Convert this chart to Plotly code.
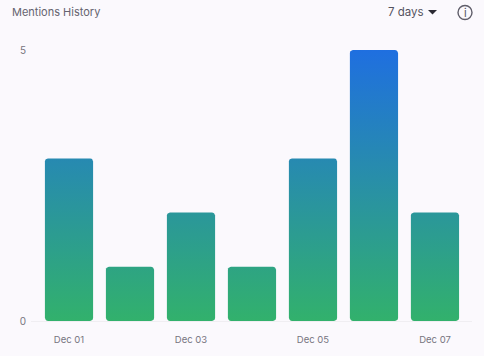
import numpy as np
import plotly.graph_objects as go

dates = ["Dec 01", "Dec 02", "Dec 03", "Dec 04", "Dec 05", "Dec 06", "Dec 07"]
mentions = [3, 1, 2, 1, 3, 5, 2]
tick_labels = ["Dec 01", "Dec 03", "Dec 05", "Dec 07"]
y_ticks = [0, 5]

W, H = 484, 356
PLOT_L, PLOT_R, PLOT_T, PLOT_B = 31, 472, 50, 321
BAR_W = 0.79
FONT = "Inter, sans-serif"
BG = "#fbf9fd"
TEXT = "#77757f"

x_range = [-0.623, 6.607]
y_range = [0, 5]
rx = 3 * (x_range[1] - x_range[0]) / (PLOT_R - PLOT_L)
ry = 3 * (y_range[1] - y_range[0]) / (PLOT_B - PLOT_T)


def rounded_bar(i, v):
    """Outline of a rounded bar of height v centred on category i."""
    a = np.linspace(0, np.pi / 2, 7)
    l, r = i - BAR_W / 2, i + BAR_W / 2
    xs = np.concatenate([l + rx - rx * np.cos(a), r - rx + rx * np.sin(a),
                         r - rx + rx * np.cos(a), l + rx - rx * np.sin(a)])
    ys = np.concatenate([ry - ry * np.sin(a), ry - ry * np.cos(a),
                         v - ry + ry * np.sin(a), v - ry + ry * np.cos(a)])
    return np.append(xs, xs[0]), np.append(ys, ys[0])


fig = go.Figure()
for i, (d, v) in enumerate(zip(dates, mentions)):
    xs, ys = rounded_bar(i, v)
    fig.add_trace(go.Scatter(
        x=xs, y=ys, mode="lines", fill="toself", line=dict(width=0),
        fillgradient=dict(type="vertical", start=5, stop=0,
                          colorscale=[[0, "#1f6fe0"], [1, "#32b16c"]]),
        name=d, hoverinfo="skip", showlegend=False,
    ))

px = lambda x: x / W
py = lambda y: 1 - y / H

fig.update_layout(
    width=W, height=H, margin=dict(l=0, r=0, t=0, b=0, autoexpand=False),
    paper_bgcolor=BG, plot_bgcolor=BG, showlegend=False,
    font=dict(family=FONT, size=10, color=TEXT),
    xaxis=dict(domain=[px(PLOT_L), px(PLOT_R)], range=x_range,
               tickmode="array", tickvals=[dates.index(t) for t in tick_labels],
               ticktext=tick_labels, showgrid=False, zeroline=False,
               ticks="outside", ticklen=10, tickcolor="rgba(0,0,0,0)",
               showline=True, linecolor="#f0eef2", linewidth=1,
               tickfont=dict(size=9.5, color=TEXT)),
    yaxis=dict(domain=[py(PLOT_B), py(PLOT_T)], range=y_range,
               tickmode="array", tickvals=y_ticks, showgrid=True,
               gridcolor="#f0eef2", gridwidth=1, zeroline=False,
               ticks="outside", ticklen=2, tickcolor="rgba(0,0,0,0)",
               tickfont=dict(size=10, color=TEXT)),
    annotations=[
        dict(text="Mentions History", xref="paper", yref="paper", x=px(10), y=py(11.5),
             xanchor="left", yanchor="middle", showarrow=False,
             font=dict(size=11, color="#65636f", family=FONT)),
        dict(text="7 days", xref="paper", yref="paper", x=px(406), y=py(11.5),
             xanchor="center", yanchor="middle", showarrow=False,
             font=dict(size=11.5, color="#55535f", family=FONT)),
        dict(text="i", xref="paper", yref="paper", x=px(465), y=py(12.5),
             xanchor="center", yanchor="middle", showarrow=False,
             font=dict(size=11, color="#55535f", family=FONT)),
    ],
    shapes=[
        dict(type="path", xref="paper", yref="paper", fillcolor="#2b2a33", line=dict(width=0),
             path=f"M {px(428)} {py(10)} L {px(437)} {py(10)} L {px(432.5)} {py(14.5)} Z"),
        dict(type="circle", xref="paper", yref="paper", line=dict(color="#5f5d69", width=1.4),
             x0=px(458), x1=px(472), y0=py(19.5), y1=py(5.5)),
    ],
)

fig.write_html("out.html", config=dict(displayModeBar=False),
               post_script="document.body.style.margin='0';document.body.style.background='%s';" % BG)
